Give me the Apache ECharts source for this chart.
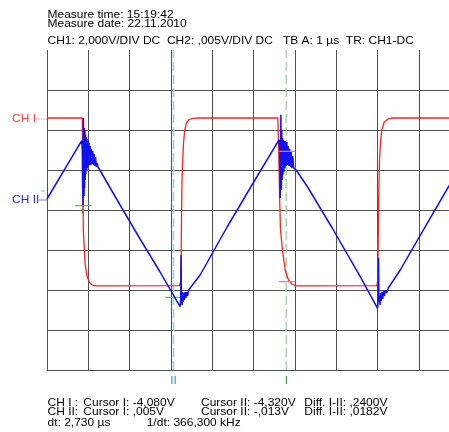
<!DOCTYPE html>
<html><head><meta charset="utf-8">
<script src="https://cdn.jsdelivr.net/npm/echarts@6/dist/echarts.min.js"></script>
<style>html,body{margin:0;padding:0;background:#fff;overflow:hidden}#c{width:462px;height:432px}</style>
</head><body><div id="c"></div><script>
// CH1 (square wave), time in µs, level in V (2 V/div)
const ch1Time = [0, 0.315, 0.330, 0.557, 0.572, 0.855, 0.862, 0.872, 0.879, 0.920, 0.961, 1.005, 1.041, 1.102, 1.162, 3.208, 3.232, 3.245, 3.254, 3.264, 3.278, 3.300, 3.329, 3.373, 3.438, 3.535, 3.705, 3.740, 3.777, 3.850, 3.885, 5.586, 5.605, 5.630, 5.649, 5.697, 5.763, 5.843, 5.920, 6.029, 7.978, 8.000, 8.010, 8.019, 8.031, 8.046, 8.070, 8.099, 8.160, 8.264, 8.354, 9.806];
const ch1Volt = [4.6, 4.6, 4.52, 4.6, 4.52, 4.6, 2.5, 0.5, -1.0, -2.65, -3.25, -3.525, -3.665, -3.75, -3.79, -3.785, -3.6, -2.5, -0.5, 1.25, 2.25, 3.25, 3.95, 4.35, 4.525, 4.585, 4.6, 4.68, 4.6, 4.6, 4.68, 4.6, 3.0, 0.5, -1.0, -2.0, -3.0, -3.5, -3.7, -3.79, -3.785, -3.6, -2.25, -0.5, 1.25, 2.5, 3.4, 4.0, 4.4, 4.56, 4.6, 4.6];

// CH2 (triangle with ringing), time in µs, level in mV (5 mV/div)
const ch2Time = [0, 0.840, 0.855, 0.862, 0.872, 0.877, 0.881, 0.889, 0.896, 0.903, 0.910, 0.918, 0.925, 0.932, 0.939, 0.949, 0.959, 0.969, 0.981, 0.993, 1.005, 1.017, 1.031, 1.046, 1.061, 1.075, 1.090, 1.107, 1.123, 1.140, 1.157, 1.174, 1.194, 1.211, 1.235, 1.768, 2.252, 2.736, 3.220, 3.235, 3.245, 3.252, 3.259, 3.269, 3.281, 3.293, 3.308, 3.324, 3.341, 3.361, 3.380, 3.402, 3.426, 3.462, 3.705, 4.358, 4.988, 5.617, 5.632, 5.642, 5.649, 5.659, 5.666, 5.673, 5.680, 5.690, 5.700, 5.709, 5.719, 5.731, 5.743, 5.758, 5.772, 5.787, 5.804, 5.821, 5.838, 5.855, 5.872, 5.889, 5.908, 5.927, 5.947, 5.969, 6.029, 6.320, 6.901, 7.579, 7.998, 8.012, 8.022, 8.031, 8.044, 8.058, 8.073, 8.087, 8.104, 8.123, 8.143, 8.165, 8.189, 8.220, 8.257, 8.547, 9.128, 9.717, 9.806];
const ch2MilliVolt = [1.375, 8.66, 7.5, 3.125, 0.66, 5.0, 11.5, 6.25, 1.75, 10.25, 2.75, 9.875, 3.75, 9.5, 4.5, 9.125, 5.0, 8.875, 5.25, 8.625, 5.5, 8.375, 5.625, 8.0, 5.625, 7.625, 5.75, 7.375, 5.625, 7.0, 5.5, 6.625, 5.375, 5.875, 5.375, 0.625, -3.625, -7.75, -12.09, -11.25, -5.625, -11.25, -10.625, -11.875, -10.25, -11.5, -10.375, -11.25, -10.25, -11.0, -10.25, -10.75, -10.0, -10.125, -8.125, -2.125, 3.375, 8.79, 7.5, 1.5, 4.375, 11.91, 5.625, 2.5, 10.0, 3.75, 9.0, 4.375, 8.75, 4.75, 8.625, 5.25, 8.625, 5.5, 8.5, 5.625, 8.0, 5.5, 7.625, 5.375, 7.25, 5.25, 6.75, 5.25, 5.0, 2.75, -2.25, -8.34, -12.29, -11.25, -5.96, -11.5, -10.75, -11.875, -10.375, -11.375, -10.25, -11.125, -10.125, -10.75, -10.0, -10.375, -9.75, -7.5, -2.29, 2.91, 3.69];

// cursor positions (µs)
const cursorOneTime = 5.79;
const cursorTwoTime = 3.06;
// channel reference markers on the left edge
const ch1MarkerVolt = 4.55;
const ch2MarkerMilliVolt = 1.25;
// short cursor level ticks: [tStart, tEnd, CH1 level V]
const tickGreenA = [0.678, 1.082, 0.215];
const tickGreenB = [2.857, 3.220, -4.365];
const tickPinkA = [5.617, 6.005, 2.935];
const tickPinkB = [5.617, 6.005, -3.585];
const crossStem = [0.866, 0.5, -0.2];

const headerLines = ['Measure time: 15:19:42', 'Measure date: 22.11.2010',
  'CH1: 2,000V/DIV DC  CH2: ,005V/DIV DC   TB A: 1 µs  TR: CH1-DC'];
const footerRows = [
  ['CH I :', 'Cursor I: -4,080V', 'Cursor II: -4,320V', 'Diff. I-II: ,2400V'],
  ['CH II:', 'Cursor I: ,005V', 'Cursor II: -,013V', 'Diff. I-II: ,0182V']
];
const footerTiming = ['dt: 2,730 µs', '1/dt: 366,300 kHz'];

const FONT = '12px "Liberation Sans", Arial, sans-serif';
const zip = (a, b) => a.map((v, i) => [v, b[i]]);
const seg = (s) => [[s[0], s[2]], [s[1], s[2]]];

// the instrument font is short and wide: squash it vertically
function text(x, y, s, fill, align) {
  return { type: 'text', x: x, y: y, scaleY: 0.86, silent: true,
    style: { text: s, fill: fill || '#000', font: FONT, textAlign: align || 'left', textVerticalAlign: 'middle' } };
}

const chart = echarts.init(document.getElementById('c'), null, { renderer: 'canvas' });

const gridColor = '#505050';
const staticText = [
  text(47.5, 14.8, headerLines[0]),
  text(47.5, 24.6, headerLines[1]),
  text(47.5, 41.2, headerLines[2]),
  text(47.5, 403.6, footerRows[0][0]), text(83.3, 403.6, footerRows[0][1]),
  text(201, 403.6, footerRows[0][2]), text(304.3, 403.6, footerRows[0][3]),
  text(47.5, 412.2, footerRows[1][0]), text(83.3, 412.2, footerRows[1][1]),
  text(201, 412.2, footerRows[1][2]), text(304.3, 412.2, footerRows[1][3]),
  text(47.5, 423.4, footerTiming[0]), text(146.7, 423.4, footerTiming[1])
];

const lineSeries = (name, data, color, width, opts) => Object.assign({
  name: name, type: 'line', data: data, showSymbol: false, symbol: 'none',
  animation: false, silent: true, clip: true,
  lineStyle: { color: color, width: width }
}, opts || {});

chart.setOption({
  animation: false,
  backgroundColor: '#fff',
  grid: { left: 47, top: 50, width: 413.3, height: 320, containLabel: false },
  xAxis: {
    type: 'value', min: 0, max: 10, interval: 1,
    axisLine: { show: false }, axisTick: { show: false }, axisLabel: { show: false },
    splitLine: { show: true, showMinLine: true, lineStyle: { color: gridColor, width: 1 } }
  },
  yAxis: [{
    type: 'value', min: -8, max: 8, interval: 2,
    axisLine: { show: false }, axisTick: { show: false }, axisLabel: { show: false },
    splitLine: { show: true, showMinLine: true, showMaxLine: false, lineStyle: { color: gridColor, width: 1 } }
  }, {
    type: 'value', min: -20, max: 20, interval: 5, show: false,
    splitLine: { show: false }
  }],
  series: [
    lineSeries('cursor II', [[cursorTwoTime, -8], [cursorTwoTime, 8]], '#93d3d3', 1.6, { z: 1, lineStyle: { color: '#93d3d3', width: 1.6, type: [9, 4] } }),
    lineSeries('cursor I', [[cursorOneTime, -8], [cursorOneTime, 8]], '#a6d8a6', 1.6, { z: 1, lineStyle: { color: '#a6d8a6', width: 1.6, type: [9, 4] } }),
    lineSeries('tick g1', seg(tickGreenA), '#5fb65f', 1.3, { z: 2 }),
    lineSeries('tick g1 stem', [[crossStem[0], crossStem[1]], [crossStem[0], crossStem[2]]], '#5fb65f', 1.3, { z: 2 }),
    lineSeries('tick g2', seg(tickGreenB), '#6cbf6c', 1.2, { z: 2 }),
    lineSeries('tick p1', seg(tickPinkA), '#c585c8', 1.2, { z: 5 }),
    lineSeries('tick p2', seg(tickPinkB), '#c585c8', 1.2, { z: 5 }),
    lineSeries('CH1', zip(ch1Time, ch1Volt), '#ff2020', 1.3, { z: 3 }),
    lineSeries('CH2', zip(ch2Time, ch2MilliVolt), '#1010f0', 1.5, { z: 4, yAxisIndex: 1 })
  ],
  graphic: staticText
});

// labels placed against the axes
const p1 = chart.convertToPixel({ xAxisIndex: 0, yAxisIndex: 0 }, [0, ch1MarkerVolt]);
const p2 = chart.convertToPixel({ xAxisIndex: 0, yAxisIndex: 1 }, [0, ch2MarkerMilliVolt]);
const c1 = chart.convertToPixel({ xAxisIndex: 0 }, cursorOneTime);
const c2 = chart.convertToPixel({ xAxisIndex: 0 }, cursorTwoTime);
const bottomY = chart.convertToPixel({ yAxisIndex: 0 }, -8);

chart.setOption({
  graphic: staticText.concat([
    text(12, p1[1], 'CH I', '#ff3c3c'),
    { type: 'line', silent: true, shape: { x1: 36, y1: p1[1], x2: 47, y2: p1[1] },
      style: { stroke: '#ff6060', lineWidth: 1, lineDash: [1, 1.5] } },
    text(12, p2[1], 'CH II', '#2a2af5'),
    { type: 'line', silent: true, shape: { x1: 39, y1: p2[1], x2: 47, y2: p2[1] },
      style: { stroke: '#a070c0', lineWidth: 1 } },
    { type: 'line', silent: true, shape: { x1: 41, y1: p2[1] - 9, x2: 45, y2: p2[1] - 9 },
      style: { stroke: '#80b8e0', lineWidth: 1 } },
    text(c2, bottomY + 11, 'II', '#2c9c9c', 'center'),
    text(c1, bottomY + 11, 'I', '#3c9c3c', 'center')
  ])
});
</script></body></html>
